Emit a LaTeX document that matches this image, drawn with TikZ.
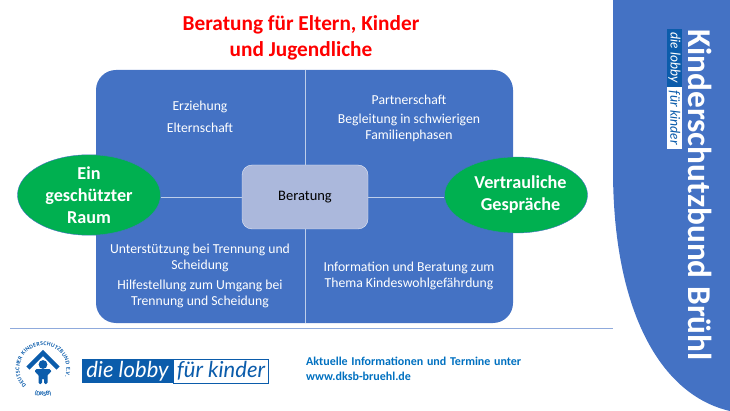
\documentclass[tikz,border=0pt]{standalone}
\usepackage{fontspec}
\setmainfont{Carlito}
\newfontfamily\lobbyfont{Lato}
\usetikzlibrary{calc,shapes.geometric,positioning,decorations.text}
\definecolor{panelblue}{HTML}{4472C4}
\definecolor{centerblue}{HTML}{ABB8DC}
\definecolor{ovalgreen}{HTML}{00B050}
\definecolor{logoblue}{HTML}{0B5CAB}
\definecolor{linkblue}{HTML}{0070C0}
\definecolor{rulerblue}{HTML}{8FAADC}
\tikzset{
  quadtext/.style={text=white,font=\fontsize{13.7}{15.5}\selectfont,align=center,inner sep=0pt},
  oval/.style={ellipse,draw=panelblue,fill=ovalgreen,text=white,minimum width=143,minimum height=76,inner sep=0pt,align=center,font=\fontsize{18.2}{22}\selectfont\bfseries},
  spoke/.style={draw=white!65!panelblue,line width=.9pt},
  lobbytext/.style={inner sep=0pt,font=\lobbyfont\itshape\fontsize{22}{24}\selectfont,minimum height=24},
  sidelogo/.style={rotate=-90,inner sep=0pt,font=\lobbyfont\itshape\fontsize{13.5}{14}\selectfont,minimum height=15}
}
\begin{document}
\begin{tikzpicture}[x=1pt,y=-1pt]
  \useasboundingbox (0,0) rectangle (730,411);
  % side band
  \fill[panelblue] (613,0) -- (730,0) -- (730,411) .. controls (660,395) and (613,310) .. (613,170) -- cycle;
  \node[rotate=-90,text=white,inner sep=0pt,font=\fontsize{33.3}{34}\selectfont\bfseries] (sidetitle) at (700,195) {Kinderschutzbund Brühl};
  \node[sidelogo,fill=logoblue,text=white,minimum width=58] (sidedie) at (674.5,58) {die lobby};
  \node[sidelogo,fill=white,text=logoblue,minimum width=62] (sidefuer) at (674.5,118) {für kinder};
  % title
  \node[text=red,align=center,font=\fontsize{21.3}{26}\selectfont\bfseries] (title) at (301,38) {Beratung für Eltern, Kinder\\und Jugendliche};
  % panel
  \fill[panelblue,rounded corners=20] (96,70) rectangle (513,323);
  \coordinate (ptop) at (305,70);
  \coordinate (pbot) at (305,323);
  \node[oval] (raum) at (89,195) {Ein\\geschützter\\Raum};
  \node[oval] (gespr) at (516,195) {\hspace*{9pt}Vertrauliche\\\hspace*{9pt}Gespräche};
  \node[draw=white!70!centerblue,fill=centerblue,rounded corners=10,minimum width=126,minimum height=64,inner sep=0pt,font=\fontsize{14.5}{16}\selectfont] (ber) at (305,197) {Beratung};
  \draw[spoke] (ptop) -- (ber);
  \draw[spoke] (ber) -- (pbot);
  \draw[spoke] (raum.east |- ber) -- (ber);
  \draw[spoke] (ber) -- (gespr.west |- ber);
  % quadrants
  \node[quadtext] (q1a) at (200,107) {Erziehung};
  \node[quadtext] (q1b) at (200,128) {Elternschaft};
  \node[quadtext] (q2a) at (409,100) {Partnerschaft};
  \node[quadtext] (q2b) at (409,128) {Begleitung in schwierigen\\Familienphasen};
  \node[quadtext] (q3a) at (200,258) {Unterstützung bei Trennung und\\Scheidung};
  \node[quadtext] (q3b) at (200,294) {Hilfestellung zum Umgang bei\\Trennung und Scheidung};
  \node[quadtext] (q4a) at (409,276) {Information und Beratung zum\\Thema Kindeswohlgefährdung};
  % footer
  \coordinate (rulel) at (10,328);
  \coordinate (ruler) at (613,328);
  \draw[rulerblue,line width=.7pt] (rulel) -- (ruler);
  \node[right,text=linkblue,inner sep=0pt,font=\fontsize{12}{15}\selectfont\bfseries] (info) at (306,361) {\spaceskip=3.7pt Aktuelle Informationen und Termine unter};
  \node[right,text=linkblue,inner sep=0pt,font=\fontsize{12}{15}\selectfont\bfseries] (web) at (306,376) {www.dksb-bruehl.de};
  % lobby logo
  \node[lobbytext,fill=logoblue,text=white,minimum width=90.5] (die) at (127.5,371) {die lobby};
  \node[lobbytext,draw=logoblue,line width=.5pt,fill=white,text=logoblue,minimum width=95.5,right=0pt of die] (fuer) {für kinder};
  % round logo
  \begin{scope}[shift={(43,369)},x=1pt,y=1pt]
    \path[postaction={decorate,decoration={text along path,text align={fit to path},
        text={|\fontsize{5.8}{6}\selectfont\bfseries\color{logoblue}|DEUTSCHER KINDERSCHUTZBUND E.V.}}}]
      (225:23.5) arc[start angle=225,end angle=-20,radius=23.5];
    \path[postaction={decorate,decoration={text along path,text align=center,
        text={|\fontsize{6.2}{7}\selectfont\bfseries\color{logoblue}|(DKSB)}}}]
      (230:27) arc[start angle=230,end angle=310,radius=27];
    \draw[logoblue,line width=4.5pt,miter limit=4] (-15,1) -- (0,16) -- (15,1);
    \fill[logoblue] (0,4.5) circle[radius=4.4];
    \fill[logoblue,rounded corners=1.5] (-8,0) -- (8,0) -- (8,-4) -- (4.5,-5) -- (4.5,-15) -- (1,-15) -- (1,-9) -- (-1,-9) -- (-1,-15) -- (-4.5,-15) -- (-4.5,-5) -- (-8,-4) -- cycle;
  \end{scope}
\end{tikzpicture}
\end{document}
